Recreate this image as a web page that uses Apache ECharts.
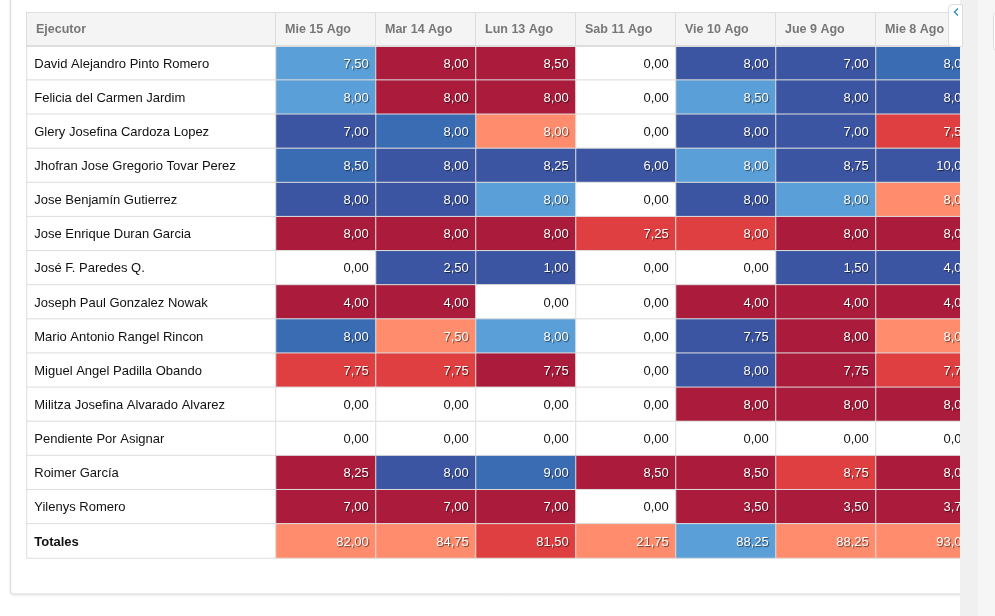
<!DOCTYPE html>
<html>
<head>
<meta charset="utf-8">
<script src="https://cdn.jsdelivr.net/npm/echarts@6/dist/echarts.min.js"></script>
<style>
  html, body { margin: 0; padding: 0; background: #fff; }
  #main { width: 995px; height: 616px; }
</style>
</head>
<body>
<div id="main"></div>
<script>
// columnas (dias) y filas (ejecutores)
var dias = ['Mie 15 Ago', 'Mar 14 Ago', 'Lun 13 Ago', 'Sab 11 Ago', 'Vie 10 Ago', 'Jue 9 Ago', 'Mie 8 Ago'];
var ejecutores = [
    'David Alejandro Pinto Romero',
    'Felicia del Carmen Jardim',
    'Glery Josefina Cardoza Lopez',
    'Jhofran Jose Gregorio Tovar Perez',
    'Jose Benjamín Gutierrez',
    'Jose Enrique Duran Garcia',
    'José F. Paredes Q.',
    'Joseph Paul Gonzalez Nowak',
    'Mario Antonio Rangel Rincon',
    'Miguel Angel Padilla Obando',
    'Militza Josefina Alvarado Alvarez',
    'Pendiente Por Asignar',
    'Roimer García',
    'Yilenys Romero',
    'Totales'
];

// horas por fila, una entrada por dia
var horas = [
    [7.50, 8.00, 8.50, 0.00, 8.00, 7.00, 8.00],
    [8.00, 8.00, 8.00, 0.00, 8.50, 8.00, 8.00],
    [7.00, 8.00, 8.00, 0.00, 8.00, 7.00, 7.50],
    [8.50, 8.00, 8.25, 6.00, 8.00, 8.75, 10.00],
    [8.00, 8.00, 8.00, 0.00, 8.00, 8.00, 8.00],
    [8.00, 8.00, 8.00, 7.25, 8.00, 8.00, 8.00],
    [0.00, 2.50, 1.00, 0.00, 0.00, 1.50, 4.00],
    [4.00, 4.00, 0.00, 0.00, 4.00, 4.00, 4.00],
    [8.00, 7.50, 8.00, 0.00, 7.75, 8.00, 8.00],
    [7.75, 7.75, 7.75, 0.00, 8.00, 7.75, 7.75],
    [0.00, 0.00, 0.00, 0.00, 8.00, 8.00, 8.00],
    [0.00, 0.00, 0.00, 0.00, 0.00, 0.00, 0.00],
    [8.25, 8.00, 9.00, 8.50, 8.50, 8.75, 8.00],
    [7.00, 7.00, 7.00, 0.00, 3.50, 3.50, 3.75],
    [82.00, 84.75, 81.50, 21.75, 88.25, 88.25, 93.00]
];

// estado de cada celda (w blanco, lb azul claro, mb azul, db azul oscuro, sa salmon, rd rojo, dr rojo oscuro)
var estados = [
    ['lb', 'dr', 'dr', 'w', 'db', 'db', 'mb'],
    ['lb', 'dr', 'dr', 'w', 'lb', 'db', 'db'],
    ['db', 'mb', 'sa', 'w', 'db', 'db', 'rd'],
    ['mb', 'db', 'db', 'db', 'lb', 'db', 'db'],
    ['db', 'db', 'lb', 'w', 'db', 'lb', 'sa'],
    ['dr', 'dr', 'dr', 'rd', 'rd', 'dr', 'dr'],
    ['w', 'db', 'db', 'w', 'w', 'db', 'db'],
    ['dr', 'dr', 'w', 'w', 'dr', 'dr', 'dr'],
    ['mb', 'sa', 'lb', 'w', 'db', 'dr', 'sa'],
    ['rd', 'rd', 'dr', 'w', 'db', 'dr', 'rd'],
    ['w', 'w', 'w', 'w', 'dr', 'dr', 'dr'],
    ['w', 'w', 'w', 'w', 'w', 'w', 'w'],
    ['dr', 'db', 'mb', 'dr', 'dr', 'rd', 'dr'],
    ['dr', 'dr', 'dr', 'w', 'dr', 'dr', 'dr'],
    ['sa', 'sa', 'rd', 'sa', 'lb', 'sa', 'sa']
];

var colores = {
    w: '#ffffff',
    lb: '#5a9fd8',
    mb: '#3a6cb4',
    db: '#3c55a3',
    sa: '#ff8c6c',
    rd: '#e03f41',
    dr: '#ab1b3c'
};

var FONT = 'Liberation Sans, Arial, sans-serif';
var BORDE = '#dddddd';

function fmt(v) {
    return v.toFixed(2).replace('.', ',');
}

var celdas = [];
horas.forEach(function (fila, i) {
    fila.forEach(function (v, j) {
        var est = estados[i][j];
        var blanco = est === 'w';
        celdas.push({
            value: [j, i, v],
            itemStyle: { color: colores[est] },
            label: blanco ? {
                color: '#111',
                textShadowColor: 'transparent'
            } : {
                color: '#fff',
                textShadowColor: 'rgba(0,0,0,0.6)',
                textShadowBlur: 1,
                textShadowOffsetX: 1,
                textShadowOffsetY: 1
            }
        });
    });
});

var nombres = ejecutores.map(function (n, i) {
    return { value: [0, i, 0], name: n };
});

function cabecera(ancho) {
    return {
        interval: 0,
        margin: 0,
        formatter: function (v) { return '{h|' + v + '}'; },
        rich: {
            h: {
                width: ancho - 9,
                height: 33,
                lineHeight: 33,
                padding: [0, 0, 0, 9],
                align: 'left',
                backgroundColor: '#f4f4f4',
                borderColor: BORDE,
                borderWidth: 1,
                color: '#777',
                fontWeight: 'bold',
                fontSize: 12.5,
                fontFamily: FONT
            }
        }
    };
}

var myChart = echarts.init(document.getElementById('main'), null, { renderer: 'canvas' });

myChart.setOption({
    backgroundColor: '#fff',
    animation: false,
    graphic: [
        {
            type: 'rect', z: -10, silent: true,
            shape: { x: 10.5, y: -10, width: 1000, height: 604, r: 3 },
            style: { fill: '#fff', stroke: '#dcdcdc', lineWidth: 1, shadowColor: 'rgba(0,0,0,0.08)', shadowBlur: 3, shadowOffsetY: 1 }
        },
        {
            // borde inferior doble de la cabecera
            type: 'line', z: 50, silent: true,
            shape: { x1: 27, y1: 46, x2: 976, y2: 46 },
            style: { stroke: BORDE, lineWidth: 2 }
        },
        {
            type: 'rect', z: 100, silent: true,
            shape: { x: 960, y: 0, width: 18, height: 616 },
            style: { fill: '#f0f0f0' }
        },
        {
            type: 'rect', z: 100, silent: true,
            shape: { x: 978, y: 0, width: 17, height: 616 },
            style: { fill: '#f6f6f6' }
        },
        {
            type: 'rect', z: 101, silent: true,
            shape: { x: 993.5, y: 12.5, width: 20, height: 38, r: 3 },
            style: { fill: '#fff', stroke: '#dddddd', lineWidth: 1 }
        },
        {
            type: 'rect', z: 101, silent: true,
            shape: { x: 948.5, y: 4.5, width: 14, height: 42, r: [4, 0, 0, 4] },
            style: { fill: '#fff', stroke: '#dddddd', lineWidth: 1 }
        },
        {
            // flecha de la pestaña
            type: 'polyline', z: 102, silent: true,
            shape: { points: [[958, 8.5], [954.5, 12], [958, 15.5]] },
            style: { stroke: '#3c8dbc', lineWidth: 1.5, fill: null }
        }
    ],
    grid: [
        { left: 27, top: 46, width: 249, height: 512 },
        { left: 276, top: 46, width: 700, height: 512 }
    ],
    xAxis: [
        {
            gridIndex: 0, type: 'category', position: 'top', data: ['Ejecutor'],
            axisLine: { show: false }, axisTick: { show: false }, splitLine: { show: false },
            axisLabel: cabecera(249)
        },
        {
            gridIndex: 1, type: 'category', position: 'top', data: dias,
            axisLine: { show: false }, axisTick: { show: false }, splitLine: { show: false },
            axisLabel: cabecera(100)
        }
    ],
    yAxis: [
        {
            gridIndex: 0, type: 'category', inverse: true, data: ejecutores,
            axisLine: { show: false }, axisTick: { show: false }, axisLabel: { show: false }
        },
        {
            gridIndex: 1, type: 'category', inverse: true, data: ejecutores,
            axisLine: { show: false }, axisTick: { show: false }, axisLabel: { show: false }
        }
    ],
    series: [
        {
            name: 'Ejecutor',
            type: 'heatmap',
            xAxisIndex: 0, yAxisIndex: 0,
            data: nombres,
            itemStyle: { color: '#fff', borderColor: BORDE, borderWidth: 1 },
            label: {
                show: true,
                position: 'insideLeft',
                distance: 8,
                offset: [0, 1],
                color: '#111',
                fontSize: 13,
                fontFamily: FONT,
                formatter: function (p) {
                    return p.dataIndex === ejecutores.length - 1 ? '{b|' + p.name + '}' : p.name;
                },
                rich: { b: { fontWeight: 'bold', fontSize: 13, fontFamily: FONT, color: '#111' } }
            },
            emphasis: { disabled: true }
        },
        {
            name: 'Horas',
            type: 'heatmap',
            xAxisIndex: 1, yAxisIndex: 1,
            data: celdas,
            itemStyle: { borderColor: BORDE, borderWidth: 1 },
            label: {
                show: true,
                position: 'insideRight',
                distance: 8,
                offset: [0, 1],
                fontSize: 13,
                fontFamily: FONT,
                formatter: function (p) { return fmt(p.value[2]); }
            },
            emphasis: { disabled: true }
        }
    ]
});
</script>
</body>
</html>
